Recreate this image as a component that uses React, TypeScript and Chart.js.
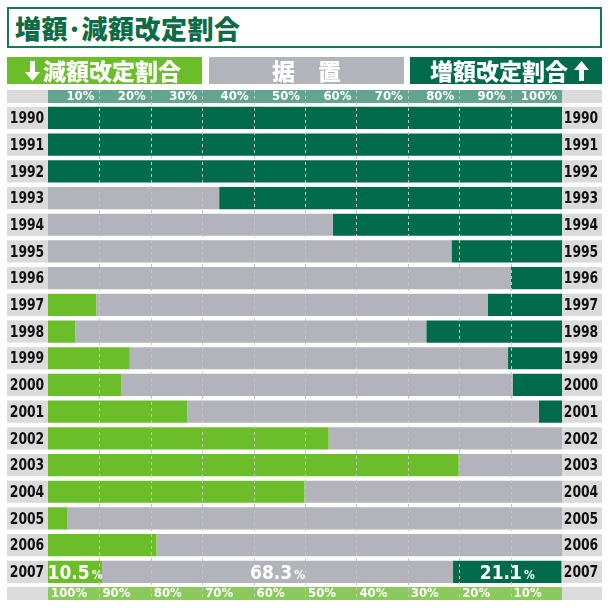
import React, { useEffect, useRef } from "react";
import { Chart, registerables } from "chart.js";
Chart.register(...registerables);

const years = ["1990","1991","1992","1993","1994","1995","1996","1997","1998","1999","2000","2001","2002","2003","2004","2005","2006","2007"];
const decrease = [0,0,0,0,0,0,0,9.4,5.3,15.9,14.3,27.1,54.6,79.9,49.9,3.8,21.1,10.5];
const unchanged = [0,0,0,33.3,55.4,78.5,90.0,76.2,68.3,73.6,76.1,68.4,45.4,20.1,50.1,96.2,78.9,68.3];
const increase = [100,100,100,66.7,44.6,21.5,10.0,14.4,26.4,10.5,9.6,4.5,0,0,0,0,0,21.1];
const topTickValues = [10,20,30,40,50,60,70,80,90,100];
const topTickLabels = ["10%","20%","30%","40%","50%","60%","70%","80%","90%","100%"];
const bottomTickValues = [0,10,20,30,40,50,60,70,80,90];
const bottomTickLabels = ["100%","90%","80%","70%","60%","50%","40%","30%","20%","10%"];
const gridValues = [10,20,30,40,50,60,70,80,90];
const lastYearLabels = ["10.5", "68.3", "21.1"];

const DARK = "#006b4b";
const LIGHT = "#6cbd2a";
const GRAY = "#b3b3bc";
const LABEL_BG = "#dcdbdb";
const TEAL = "#64a590";
const BOTTOM_GREEN = "#8bc95c";
const NARROW = '"Liberation Sans Narrow", "DejaVu Sans Condensed", sans-serif';
const CJK = '"Noto Sans CJK JP", sans-serif';

function narrowText(ctx: any, text: string, x: number, y: number, sx: number) {
  ctx.save();
  ctx.translate(x, y);
  ctx.scale(sx, 1);
  ctx.fillText(text, 0, 0);
  ctx.restore();
}

const deco = {
  id: "deco",
  beforeDatasetsDraw(chart: any) {
    const ctx = chart.ctx;
    const x = chart.scales.x;
    const y = chart.scales.y;
    const L = x.getPixelForValue(0);
    const R = x.getPixelForValue(100);
    ctx.save();
    ctx.fillStyle = LABEL_BG;
    ctx.fillRect(7, 90, 595, 13);
    ctx.fillStyle = TEAL;
    ctx.fillRect(L, 90, R - L, 13);
    ctx.fillStyle = LABEL_BG;
    ctx.fillRect(7, 587, 595, 13);
    ctx.fillStyle = BOTTOM_GREEN;
    ctx.fillRect(L, 587, R - L, 13);
    const meta = chart.getDatasetMeta(0);
    ctx.font = "bold 16px " + NARROW;
    ctx.textAlign = "center";
    ctx.textBaseline = "middle";
    years.forEach((yr, i) => {
      const cy = y.getPixelForValue(i);
      const h = meta.data[i].height;
      ctx.fillStyle = LABEL_BG;
      ctx.fillRect(7, cy - h / 2, L - 7, h);
      ctx.fillRect(R, cy - h / 2, 602 - R, h);
      ctx.fillStyle = "#111";
      narrowText(ctx, yr, (7 + L) / 2 - 0.5, cy + 1, 0.86);
      narrowText(ctx, yr, (R + 602) / 2 - 1, cy + 1, 0.86);
    });
    ctx.restore();
  },
  afterDatasetsDraw(chart: any) {
    const ctx = chart.ctx;
    const x = chart.scales.x;
    ctx.save();
    ctx.strokeStyle = "#c4c4c4";
    ctx.lineWidth = 1;
    ctx.setLineDash([3, 3]);
    gridValues.forEach((v) => {
      const px = Math.round(x.getPixelForValue(v)) + 0.5;
      ctx.beginPath();
      ctx.moveTo(px, 90);
      ctx.lineTo(px, 600);
      ctx.stroke();
    });
    ctx.setLineDash([]);
    ctx.fillStyle = "#fff";
    ctx.font = "bold 13px " + NARROW;
    ctx.textBaseline = "middle";
    ctx.textAlign = "right";
    topTickValues.forEach((v, k) => {
      ctx.fillText(topTickLabels[k], x.getPixelForValue(v) - 5, 97);
    });
    ctx.textAlign = "left";
    bottomTickValues.forEach((v, k) => {
      ctx.fillText(bottomTickLabels[k], x.getPixelForValue(v) + 3, 594);
    });
    const idx = years.length - 1;
    ctx.textAlign = "left";
    ctx.textBaseline = "alphabetic";
    lastYearLabels.forEach((lab, d) => {
      const el = chart.getDatasetMeta(d).data[idx];
      const cx = (el.x + el.base) / 2;
      const cy = el.y;
      ctx.font = "bold 19px " + NARROW;
      const w1 = ctx.measureText(lab).width;
      ctx.font = "bold 12px " + NARROW;
      const w2 = ctx.measureText("%").width;
      const start = cx - (w1 + 2 + w2) / 2;
      ctx.font = "bold 19px " + NARROW;
      ctx.fillText(lab, start, cy + 7);
      ctx.font = "bold 12px " + NARROW;
      ctx.fillText("%", start + w1 + 2, cy + 7);
    });
    ctx.restore();
  },
};

function Arrow({ up }: { up?: boolean }) {
  return (
    <svg width="15" height="20" viewBox="0 0 15 20" style={{ display: "block" }}>
      <polygon
        points={up ? "7.5,0 15,9 10,9 10,20 5,20 5,9 0,9" : "5,0 10,0 10,11 15,11 7.5,20 0,11 5,11"}
        fill="#fff"
      />
    </svg>
  );
}

export default function App() {
  const ref = useRef<HTMLCanvasElement | null>(null);
  useEffect(() => {
    if (!ref.current) return;
    const chart = new Chart(ref.current, {
      type: "bar",
      data: {
        labels: years,
        datasets: [
          { label: "減額改定割合", data: decrease, backgroundColor: LIGHT },
          { label: "据置", data: unchanged, backgroundColor: GRAY },
          { label: "増額改定割合", data: increase, backgroundColor: DARK },
        ],
      },
      options: {
        indexAxis: "y",
        animation: false,
        responsive: false,
        events: [],
        datasets: { bar: { barPercentage: 0.83, categoryPercentage: 1, borderWidth: 0 } },
        layout: { padding: { left: 48, right: 48, top: 104.6, bottom: 24.8 } },
        plugins: { legend: { display: false }, tooltip: { enabled: false }, title: { display: false } },
        scales: {
          x: { type: "linear", min: 0, max: 100, stacked: true, display: false },
          y: { type: "category", stacked: true, display: false },
        },
      } as any,
      plugins: [deco],
    });
    return () => chart.destroy();
  }, []);

  const boxBase: React.CSSProperties = {
    position: "absolute",
    top: 57,
    height: 27,
    color: "#fff",
    fontFamily: CJK,
    fontWeight: 900,
    fontSize: 23,
    lineHeight: "27px",
    display: "flex",
    alignItems: "center",
    boxSizing: "border-box",
    whiteSpace: "nowrap",
  };

  return (
    <div style={{ position: "absolute", left: 0, top: 0, width: 610, height: 610, background: "#fff", overflow: "hidden" }}>
      <canvas ref={ref} width={610} height={610} style={{ position: "absolute", left: 0, top: 0, display: "block" }} />
      <div
        style={{
          position: "absolute",
          left: 7,
          top: 7,
          width: 595,
          height: 41,
          border: "2px solid #177a52",
          boxSizing: "border-box",
          background: "#fff",
          color: "#0d6b46",
          fontFamily: CJK,
          fontWeight: 900,
          fontSize: 26,
          letterSpacing: 0.5,
          lineHeight: "37px",
          paddingLeft: 6,
          whiteSpace: "nowrap",
        }}
      >
        増額･減額改定割合
      </div>
      <div style={{ ...boxBase, left: 7, width: 195, background: LIGHT, paddingLeft: 18 }}>
        <Arrow />
        <span style={{ marginLeft: 3 }}>減額改定割合</span>
      </div>
      <div style={{ ...boxBase, left: 209, width: 195, background: GRAY, justifyContent: "center" }}>
        <span>据　置</span>
      </div>
      <div style={{ ...boxBase, left: 410, width: 192, background: DARK, paddingLeft: 20 }}>
        <span style={{ marginRight: 6 }}>増額改定割合</span>
        <Arrow up />
      </div>
    </div>
  );
}
